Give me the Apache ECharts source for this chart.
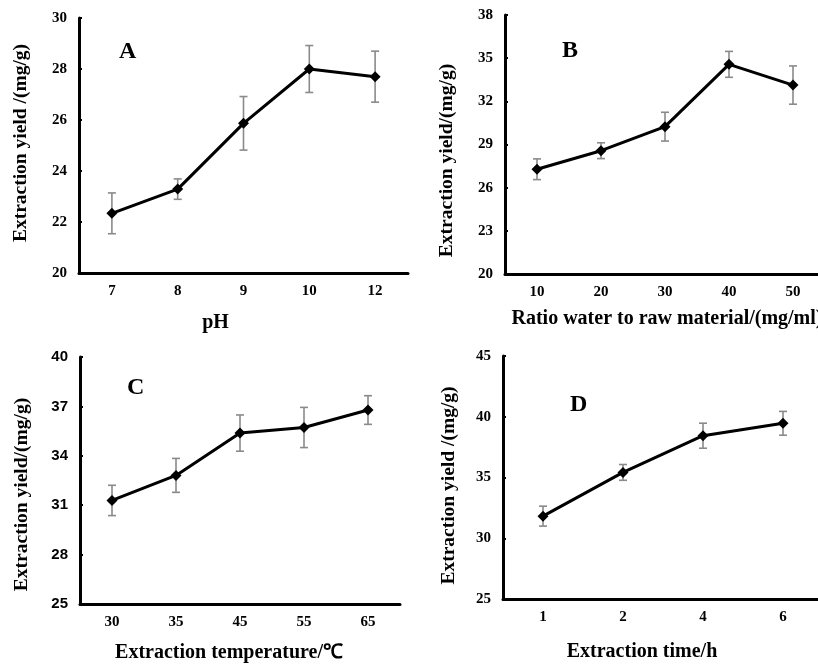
<!DOCTYPE html>
<html>
<head>
<meta charset="utf-8">
<title>Extraction yield</title>
<script src="https://cdn.jsdelivr.net/npm/echarts@6/dist/echarts.min.js"></script>
<style>
  html, body { margin: 0; padding: 0; background: #fff; }
  #chart { width: 818px; height: 666px; }
</style>
</head>
<body>
<div id="chart"></div>
<script>
// panel A - pH
const phCats = ['7', '8', '9', '10', '12']
const phMean = [22.34, 23.29, 25.87, 28.0, 27.7]
const phErr = [0.8, 0.4, 1.05, 0.92, 1.0]

// panel B - ratio water to raw material
const ratioCats = ['10', '20', '30', '40', '50']
const ratioMean = [27.28, 28.57, 30.24, 34.57, 33.13]
const ratioErr = [0.72, 0.55, 1.0, 0.9, 1.33]

// panel C - temperature
const tempCats = ['30', '35', '45', '55', '65']
const tempMean = [31.29, 32.81, 35.38, 35.72, 36.78]
const tempErr = [0.92, 1.03, 1.1, 1.22, 0.87]

// panel D - time
const timeCats = ['1', '2', '4', '6']
const timeMean = [31.82, 35.42, 38.44, 39.46]
const timeErr = [0.82, 0.65, 1.03, 0.98]

const serif = 'Liberation Serif, Times New Roman, serif'
const sans = 'Liberation Sans, Arial, sans-serif'

const panels = [
  {
    letter: 'A', cats: phCats, mean: phMean, err: phErr,
    grid: { left: 79, top: 18, width: 329, height: 255 },
    y: { min: 20, max: 30, interval: 2 },
    xName: 'pH', xGap: 40, xPad: [0, 56, 0, 0],
    yName: 'Extraction yield /(mg/g)', yGap: 48, yPad: [0, 0, 0, 5],
    yFont: serif,
    letterPos: { left: 119, top: 40 },
  },
  {
    letter: 'B', cats: ratioCats, mean: ratioMean, err: ratioErr,
    grid: { left: 505, top: 15, width: 320, height: 259 },
    y: { min: 20, max: 38, interval: 3 },
    xName: 'Ratio water to raw material/(mg/ml)', xGap: 35, xPad: [0, 0, 0, 4],
    yName: 'Extraction yield/(mg/g)', yGap: 48, yPad: [0, 32, 0, 0],
    yFont: serif,
    letterPos: { left: 562, top: 39 },
  },
  {
    letter: 'C', cats: tempCats, mean: tempMean, err: tempErr,
    grid: { left: 80, top: 357, width: 320, height: 247 },
    y: { min: 25, max: 40, interval: 3 },
    xName: 'Extraction temperature/℃', xGap: 39, xPad: [0, 22, 0, 0],
    yName: 'Extraction yield/(mg/g)', yGap: 48, yPad: [0, 28, 0, 0],
    yFont: sans,
    letterPos: { left: 127, top: 376 },
  },
  {
    letter: 'D', cats: timeCats, mean: timeMean, err: timeErr,
    grid: { left: 503, top: 356, width: 320, height: 243 },
    y: { min: 25, max: 45, interval: 5 },
    xName: 'Extraction time/h', xGap: 43, xPad: [0, 42, 0, 0],
    yName: 'Extraction yield /(mg/g)', yGap: 44, yPad: [0, 16, 0, 0],
    yFont: serif,
    letterPos: { left: 570, top: 393 },
  },
]

const axisLine = { lineStyle: { color: '#000', width: 3 } }
const axisTick = { inside: true, length: 3, lineStyle: { color: '#000', width: 2 } }

function errorBar(params, api) {
  const x = api.value(0)
  const lo = api.coord([x, api.value(1)])
  const hi = api.coord([x, api.value(2)])
  const cap = 4
  const style = { stroke: '#8a8a8a', lineWidth: 1.6 }
  return {
    type: 'group',
    children: [
      { type: 'line', shape: { x1: hi[0], y1: hi[1], x2: lo[0], y2: lo[1] }, style },
      { type: 'line', shape: { x1: hi[0] - cap, y1: hi[1], x2: hi[0] + cap, y2: hi[1] }, style },
      { type: 'line', shape: { x1: lo[0] - cap, y1: lo[1], x2: lo[0] + cap, y2: lo[1] }, style },
    ],
  }
}

const option = {
  backgroundColor: '#fff',
  animation: false,
  title: panels.map(p => ({
    text: p.letter,
    left: p.letterPos.left,
    top: p.letterPos.top,
    padding: 0,
    textStyle: { fontFamily: serif, fontWeight: 'bold', fontSize: 24, color: '#000' },
  })),
  // grids are placed by hand, so keep echarts from shrinking them to fit names
  grid: panels.map(p => ({ ...p.grid, outerBoundsMode: 'none' })),
  xAxis: panels.map((p, i) => ({
    type: 'category',
    gridIndex: i,
    data: p.cats,
    boundaryGap: true,
    name: p.xName,
    nameLocation: 'middle',
    nameGap: p.xGap,
    nameTextStyle: { fontFamily: serif, fontWeight: 'bold', fontSize: 20, color: '#000', padding: p.xPad },
    axisLine,
    axisTick: { ...axisTick, alignWithLabel: false },
    axisLabel: { fontFamily: serif, fontWeight: 'bold', fontSize: 15, color: '#000', margin: 11 },
    splitLine: { show: false },
  })),
  yAxis: panels.map((p, i) => ({
    type: 'value',
    gridIndex: i,
    min: p.y.min,
    max: p.y.max,
    interval: p.y.interval,
    name: p.yName,
    nameLocation: 'middle',
    nameGap: p.yGap,
    nameTextStyle: { fontFamily: serif, fontWeight: 'bold', fontSize: 19.5, color: '#000', padding: p.yPad },
    axisLine: { show: true, ...axisLine },
    axisTick: { show: true, ...axisTick },
    axisLabel: { fontFamily: p.yFont, fontWeight: 'bold', fontSize: 15, color: '#000', margin: 12 },
    splitLine: { show: false },
  })),
  series: panels.flatMap((p, i) => [
    {
      type: 'custom',
      xAxisIndex: i,
      yAxisIndex: i,
      renderItem: errorBar,
      z: 1,
      data: p.mean.map((m, j) => [j, m - p.err[j], m + p.err[j]]),
    },
    {
      type: 'line',
      xAxisIndex: i,
      yAxisIndex: i,
      data: p.mean,
      symbol: 'diamond',
      symbolSize: 11,
      z: 3,
      lineStyle: { color: '#000', width: 3 },
      itemStyle: { color: '#000' },
    },
  ]),
}

const chart = echarts.init(document.getElementById('chart'))
chart.setOption(option)
</script>
</body>
</html>
